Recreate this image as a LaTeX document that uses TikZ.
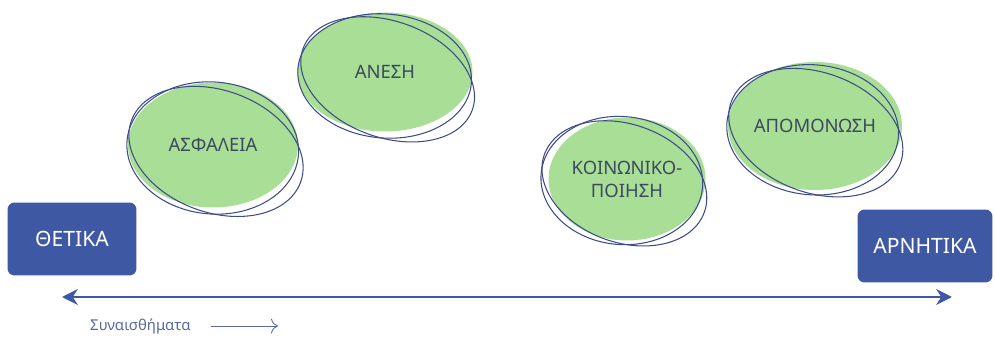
\documentclass[tikz,border=0pt]{standalone}
\usepackage{fontspec}
\setmainfont{Noto Sans}
\usetikzlibrary{arrows.meta,shapes.geometric}

\definecolor{boxblue}{HTML}{3F58A3}
\definecolor{blobgreen}{HTML}{A9DE97}
\definecolor{blobtext}{HTML}{3B4A5E}
\definecolor{lineblue}{HTML}{3D4C88}
\definecolor{labelblue}{HTML}{5A6A9E}

\tikzset{
  sidebox/.style={fill=boxblue, text=white, rounded corners=4pt, inner sep=0pt,
    minimum height=1.46cm, font=\fontsize{12}{14}\selectfont},
  blob/.style={ellipse, fill=blobgreen, text=blobtext, inner sep=0pt,
    font=\fontsize{10.5}{13}\selectfont, align=center},
  scribble/.style={draw=lineblue, line width=0.6pt},
  axis/.style={draw=boxblue, line width=1.7pt, {Stealth[length=9pt,width=9pt]}-{Stealth[length=9pt,width=9pt]}}
}

\begin{document}
\begin{tikzpicture}[x=0.02cm, y=-0.02cm]
    \useasboundingbox (0,0) rectangle (995,338);

    % Side boxes
    \node[sidebox, minimum width=2.58cm] (pos) at (72,239) {ΘΕΤΙΚΑ};
    \node[sidebox, minimum width=2.7cm] (neg) at (925,246) {ΑΡΝΗΤΙΚΑ};

    % Green blobs with the words
    \node[blob, minimum width=3.4cm, minimum height=2.5cm] (safe) at (213,145) {ΑΣΦΑΛΕΙΑ};
    \node[blob, minimum width=3.5cm, minimum height=2.38cm] (ease) at (385,72) {ΑΝΕΣΗ};
    \node[blob, minimum width=3.14cm, minimum height=2.46cm] (social) at (627,179) {ΚΟΙΝΩΝΙΚΟ-\\ΠΟΙΗΣΗ};
    \node[blob, minimum width=3.48cm, minimum height=2.56cm] (alone) at (815,126) {ΑΠΟΜΟΝΩΣΗ};

    % Hand drawn rings round each blob
    \draw[scribble, rotate around={-20:(safe.center)}] ([shift={(5,5)}]safe.center) ellipse (90 and 61);
    \draw[scribble, rotate around={-5:(safe.center)}] ([shift={(0,3)}]safe.center) ellipse (86 and 66);

    \draw[scribble, rotate around={-20:(ease.center)}] ([shift={(5,6)}]ease.center) ellipse (90 and 58);
    \draw[scribble, rotate around={-5:(ease.center)}] ([shift={(0,4)}]ease.center) ellipse (87 and 62);

    \draw[scribble, rotate around={-20:(social.center)}] ([shift={(-1,5)}]social.center) ellipse (85 and 59);
    \draw[scribble, rotate around={-5:(social.center)}] ([shift={(-5,2)}]social.center) ellipse (81 and 64);

    \draw[scribble, rotate around={-20:(alone.center)}] ([shift={(3,6)}]alone.center) ellipse (90 and 60);
    \draw[scribble, rotate around={-5:(alone.center)}] ([shift={(-2,4)}]alone.center) ellipse (86 and 65);

    % Axis of feelings
    \coordinate (axl) at (62,297);
    \coordinate (axr) at (952,297);
    \draw[axis] (axl) -- (axr);

    \node[anchor=west, text=labelblue, font=\fontsize{8.5}{10}\selectfont] (feel) at (84,326) {Συναισθήματα};
    \coordinate (feelend) at (278,326);
    \draw[labelblue, line width=0.5pt, -{To[length=4pt]}] ([xshift=8]feel.east) -- (feelend);
\end{tikzpicture}
\end{document}
